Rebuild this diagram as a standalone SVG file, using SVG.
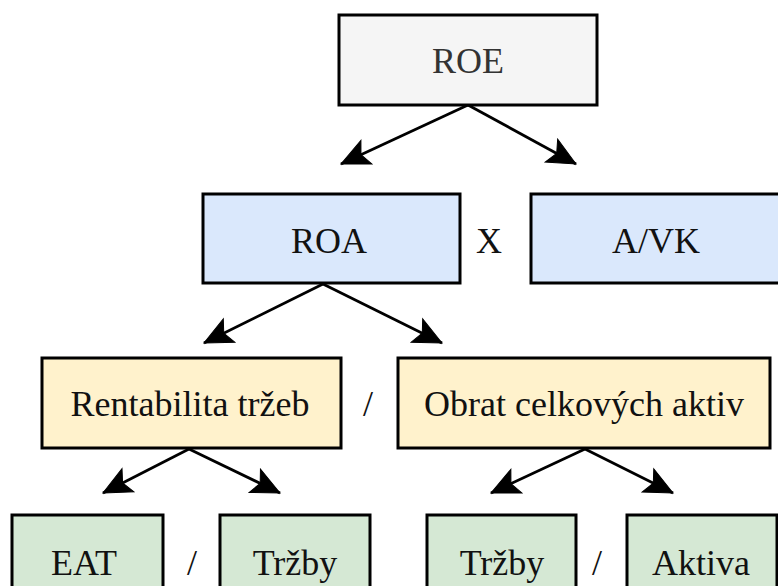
<svg xmlns="http://www.w3.org/2000/svg" width="778" height="586" viewBox="0 0 778 586">
  <style>
    .box { stroke: #000; stroke-width: 3; }
    .gray { fill: #f5f5f5; }
    .blue { fill: #dae8fc; }
    .yellow { fill: #fff2cc; }
    .green { fill: #d5e8d4; }
    .edge { stroke: #000; stroke-width: 2.8; fill: none; marker-end: url(#head); }
  </style>
  <defs>
    <!-- solid arrowhead with a shallow notch, in user units so its size is fixed -->
    <marker id="head" markerUnits="userSpaceOnUse" viewBox="-30 -15 32 30" refX="0" refY="0" markerWidth="32" markerHeight="30" orient="auto">
      <path d="M0,0 L-28,-13 L-22,0 L-28,13 Z" fill="#000" stroke="#000" stroke-width="1" stroke-linejoin="miter"/>
    </marker>
  </defs>
  <rect width="778" height="586" fill="#fff"/>

  <g id="connectors">
    <line class="edge" x1="468" y1="105" x2="341" y2="164"/>
    <line class="edge" x1="468" y1="105" x2="576" y2="164"/>
    <line class="edge" x1="323" y1="284" x2="204" y2="343"/>
    <line class="edge" x1="323" y1="284" x2="442" y2="343"/>
    <line class="edge" x1="189" y1="449" x2="103" y2="493"/>
    <line class="edge" x1="189" y1="449" x2="280" y2="493"/>
    <line class="edge" x1="585" y1="449" x2="491" y2="493"/>
    <line class="edge" x1="585" y1="449" x2="673" y2="493"/>
  </g>

  <g font-family="Liberation Serif, Times New Roman, serif" font-size="36" text-anchor="middle" fill="#111">
    <g id="roe">
      <rect class="box gray" x="339" y="15" width="258" height="90"/>
      <text x="468" y="73" fill="#333">ROE</text>
    </g>

    <g id="roa">
      <rect class="box blue" x="203" y="194" width="257" height="89"/>
      <text x="329" y="253">ROA</text>
    </g>
    <text x="489" y="253">X</text>
    <g id="avk">
      <rect class="box blue" x="531" y="194" width="260" height="89"/>
      <text x="656" y="253">A/VK</text>
    </g>

    <g id="rentabilita">
      <rect class="box yellow" x="42" y="358" width="299" height="90"/>
      <text x="190" y="416">Rentabilita tržeb</text>
    </g>
    <text x="368" y="416">/</text>
    <g id="obrat">
      <rect class="box yellow" x="398" y="358" width="372" height="90"/>
      <text x="584" y="416">Obrat celkových aktiv</text>
    </g>

    <g id="eat">
      <rect class="box green" x="12" y="515" width="151" height="95"/>
      <text x="84" y="575">EAT</text>
    </g>
    <text x="192" y="575">/</text>
    <g id="trzby1">
      <rect class="box green" x="220" y="515" width="150" height="95"/>
      <text x="295" y="575">Tržby</text>
    </g>

    <g id="trzby2">
      <rect class="box green" x="427" y="515" width="149" height="95"/>
      <text x="502" y="575">Tržby</text>
    </g>
    <text x="597" y="575">/</text>
    <g id="aktiva">
      <rect class="box green" x="627" y="515" width="150" height="95"/>
      <text x="701" y="575">Aktiva</text>
    </g>
  </g>
</svg>
